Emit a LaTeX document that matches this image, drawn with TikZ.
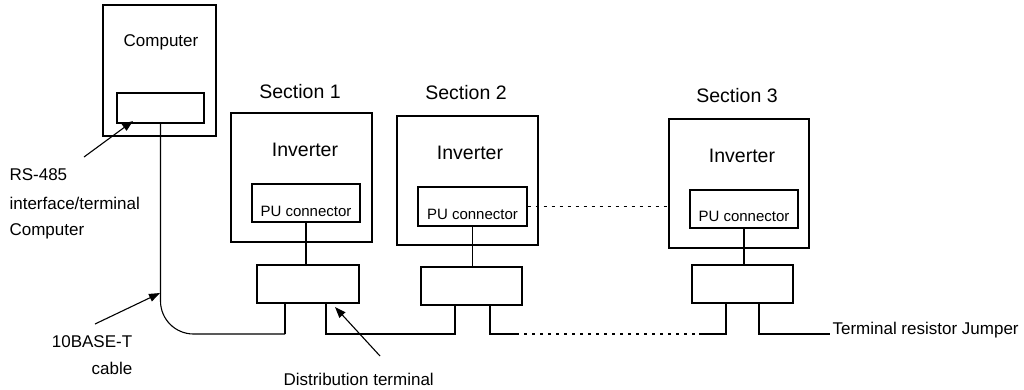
\documentclass[tikz,border=0pt]{standalone}
\usepackage{fontspec}
\setmainfont{Liberation Sans}
\usetikzlibrary{arrows.meta}
\begin{document}
\begin{tikzpicture}[x=1pt,y=-1pt,line width=1.1pt,
  box/.style={draw,rectangle,inner sep=0pt},
  lbl/.style={inner sep=0pt,font=\fontsize{17}{20}\selectfont},
  big/.style={inner sep=0pt,font=\fontsize{19.5}{23}\selectfont},
  pu/.style={inner sep=0pt,font=\fontsize{15}{18}\selectfont},
  arr/.style={-{Triangle[length=11pt,width=8pt]}},
  dots/.style={dash pattern=on 3pt off 5pt}]
\useasboundingbox (0,0) rectangle (1024,389);
% computer
\node[box,minimum width=113pt,minimum height=131pt] (comp) at (159.5,70.5) {};
\node[lbl] (comptxt) at (161,42) {Computer};
\node[box,minimum width=87pt,minimum height=30pt] (iface) at (160.5,108) {};
% section 1
\node[big] (s1) at (300,92) {Section 1};
\node[box,minimum width=141pt,minimum height=129pt] (inv1) at (301.5,177.5) {};
\node[big] (inv1t) at (305,150) {Inverter};
\node[box,minimum width=108pt,minimum height=38pt] (pu1) at (306,203) {};
\node[pu] (pu1t) at (306,211) {PU connector};
\node[box,minimum width=102pt,minimum height=38pt] (dt1) at (308,284) {};
% section 2
\node[big] (s2) at (466,93) {Section 2};
\node[box,minimum width=141pt,minimum height=129pt] (inv2) at (467.5,180.5) {};
\node[big] (inv2t) at (470,153) {Inverter};
\node[box,minimum width=109pt,minimum height=39pt] (pu2) at (472.5,206.5) {};
\node[pu] (pu2t) at (472.5,214) {PU connector};
\node[box,minimum width=101pt,minimum height=38pt] (dt2) at (471.5,286) {};
% section 3
\node[big] (s3) at (737,96) {Section 3};
\node[box,minimum width=140pt,minimum height=129pt] (inv3) at (739,183.5) {};
\node[big] (inv3t) at (742,156) {Inverter};
\node[box,minimum width=108pt,minimum height=38pt] (pu3) at (744,209) {};
\node[pu] (pu3t) at (744,216) {PU connector};
\node[box,minimum width=101pt,minimum height=38pt] (dt3) at (742.5,284) {};
% PU to distribution terminal
\draw (pu1.south) -- (pu1.south |- dt1.north);
\draw (pu2.south) -- (pu2.south |- dt2.north);
\draw (pu3.south) -- (pu3.south |- dt3.north);
\draw[dots] (pu2.east) -- (pu2.east -| inv3.west);
% bus coordinates
\coordinate (b1l) at (285,334);
\coordinate (b1r) at (326,334);
\coordinate (b2l) at (455,334);
\coordinate (b2r) at (490,334);
\coordinate (b2e) at (516,334);
\coordinate (b3s) at (699,334);
\coordinate (b3l) at (726,334);
\coordinate (b3r) at (759,334);
\coordinate (b3e) at (830,334);
% cable
\draw[rounded corners=33pt] (iface.south) |- (b1l);
\draw (b1l) -- (b1l |- dt1.south);
\draw (b1r |- dt1.south) -- (b1r) -- (b2l) -- (b2l |- dt2.south);
\draw (b2r |- dt2.south) -- (b2r) -- (b2e);
\draw[dots] (b2e) -- (b3s);
\draw (b3s) -- (b3l) -- (b3l |- dt3.south);
\draw (b3r |- dt3.south) -- (b3r) -- (b3e);
\node[lbl,anchor=base west] (term) at (832,334) {Terminal resistor Jumper};
% annotations
\node[lbl,anchor=west] (rs) at (9,175) {RS-485};
\node[lbl,anchor=west] (rs2) at (9,203) {interface/terminal};
\node[lbl,anchor=west] (rs3) at (9,231) {Computer};
\coordinate (a1s) at (84,157);
\coordinate (a1e) at (133,121);
\draw[arr] (a1s) -- (a1e);
\node[lbl] (tb) at (92,342) {10BASE-T};
\node[lbl] (tb2) at (112,368) {cable};
\coordinate (a2s) at (95,324);
\coordinate (a2e) at (160,293);
\draw[arr] (a2s) -- (a2e);
\node[lbl,anchor=west] (dist) at (283,379) {Distribution terminal};
\coordinate (a3s) at (380,356);
\coordinate (a3e) at (335,307);
\draw[arr] (a3s) -- (a3e);
\end{tikzpicture}
\end{document}
